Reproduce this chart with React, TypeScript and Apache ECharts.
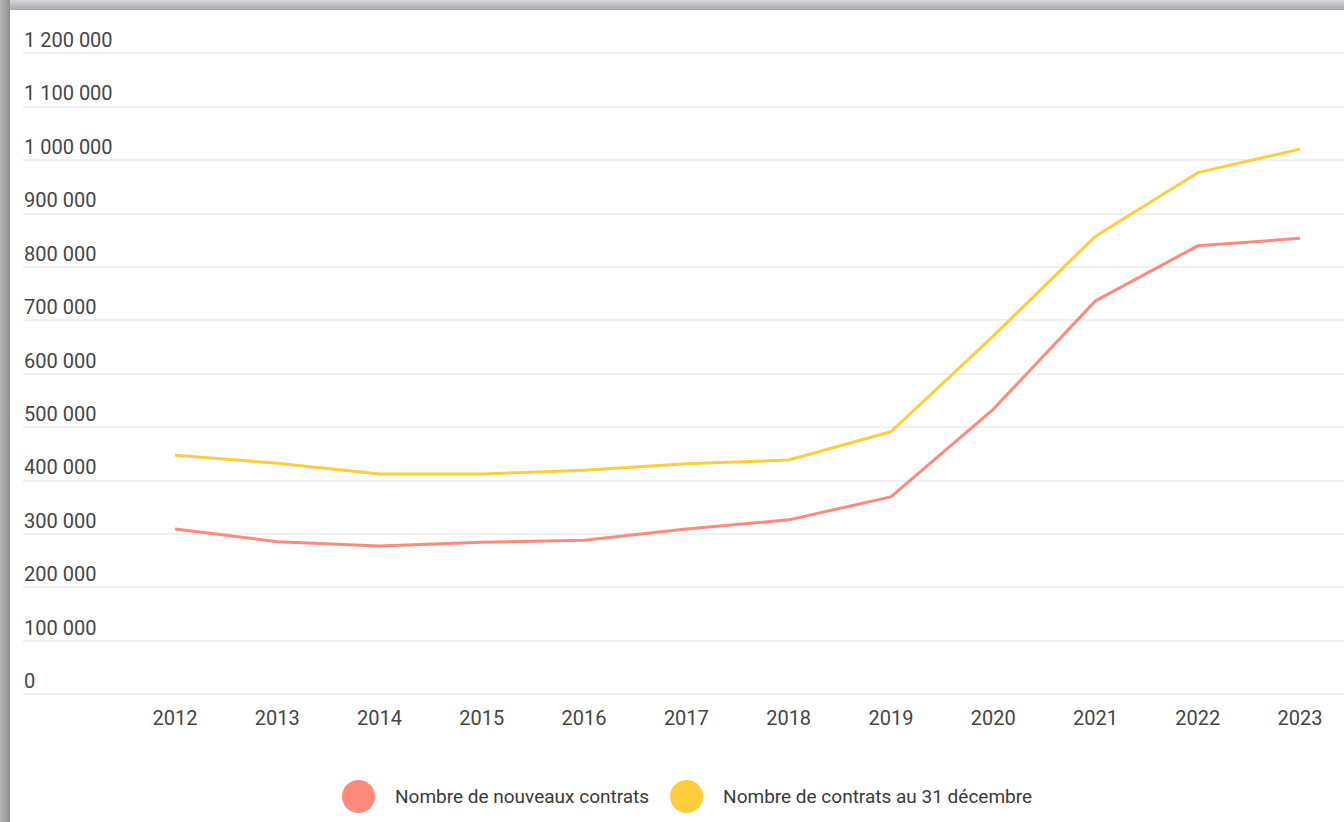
import React, { useEffect, useRef } from "react";
import * as echarts from "echarts";

const years = ["2012", "2013", "2014", "2015", "2016", "2017", "2018", "2019", "2020", "2021", "2022", "2023"];
const nouveauxContrats = [309000, 285000, 277000, 284000, 288000, 309000, 326000, 369000, 533000, 736000, 839000, 853000];
const contrats31Dec = [447000, 432000, 412000, 412000, 419000, 431000, 438000, 491000, 670000, 857000, 976000, 1020000];
const seriesNames = ["Nombre de nouveaux contrats", "Nombre de contrats au 31 décembre"];
const seriesColors = ["#ff8a7c", "#ffcd3a"];

const fmt = (v: number) => String(v).replace(/\B(?=(\d{3})+(?!\d))/g, " ");

export default function App() {
  const ref = useRef<HTMLDivElement>(null);
  useEffect(() => {
    if (!ref.current) return;
    const chart = echarts.init(ref.current, undefined, { renderer: "svg" });
    chart.setOption({
      animation: false,
      backgroundColor: "#ffffff",
      textStyle: { fontFamily: "Roboto" },
      graphic: [
        {
          type: "rect",
          shape: { x: 0, y: 0, width: 1344, height: 10 },
          style: {
            fill: new echarts.graphic.LinearGradient(0, 0, 0, 1, [
              { offset: 0, color: "#d8d8dc" },
              { offset: 1, color: "#a8a8ac" },
            ]),
          },
          silent: true,
        },
        {
          type: "rect",
          shape: { x: 0, y: 0, width: 10, height: 822 },
          style: {
            fill: new echarts.graphic.LinearGradient(0, 0, 1, 0, [
              { offset: 0, color: "#b8b8b8" },
              { offset: 1, color: "#8e8e8e" },
            ]),
          },
          silent: true,
        },
      ],
      legend: {
        left: 337,
        top: 775,
        icon: "circle",
        itemWidth: 33,
        itemHeight: 33,
        itemGap: 21,
        data: seriesNames,
        textStyle: { fontSize: 19, color: "#3a3a3a", fontFamily: "Roboto", padding: [0, 0, 0, 15] },
      },
      grid: [
        { left: 23, right: 0, top: 53, bottom: 128 },
        { left: 175, right: 44, top: 53, bottom: 128 },
      ],
      xAxis: [
        { gridIndex: 0, type: "value", show: false, min: 0, max: 1 },
        {
          gridIndex: 1,
          type: "category",
          data: years,
          boundaryGap: false,
          axisLine: { show: false },
          axisTick: { show: false },
          axisLabel: { fontSize: 20, color: "#454545", margin: 14, fontFamily: "Roboto" },
          splitLine: { show: false },
        },
      ],
      yAxis: [
        {
          gridIndex: 0,
          type: "value",
          min: 0,
          max: 1200000,
          interval: 100000,
          axisLine: { show: false },
          axisTick: { show: false },
          splitLine: { lineStyle: { color: "#ebebeb", width: 1.5 } },
          axisLabel: {
            inside: true,
            margin: 1,
            align: "left",
            verticalAlign: "bottom",
            padding: [0, 0, 3, 0],
            fontSize: 20,
            color: "#454545",
            fontFamily: "Roboto",
            formatter: (v: number) => fmt(v),
          },
        },
        { gridIndex: 1, type: "value", min: 0, max: 1200000, show: false, splitLine: { show: false } },
      ],
      series: [
        {
          name: seriesNames[0],
          type: "line",
          xAxisIndex: 1,
          yAxisIndex: 1,
          data: nouveauxContrats,
          showSymbol: false,
          symbol: "none",
          lineStyle: { color: seriesColors[0], width: 3 },
          itemStyle: { color: seriesColors[0] },
        },
        {
          name: seriesNames[1],
          type: "line",
          xAxisIndex: 1,
          yAxisIndex: 1,
          data: contrats31Dec,
          showSymbol: false,
          symbol: "none",
          lineStyle: { color: seriesColors[1], width: 3 },
          itemStyle: { color: seriesColors[1] },
        },
      ],
    });
    return () => chart.dispose();
  }, []);
  return (
    <div style={{ position: "fixed", left: 0, top: 0, width: 1344, height: 822 }}>
      <div ref={ref} style={{ width: 1344, height: 822 }} />
    </div>
  );
}
